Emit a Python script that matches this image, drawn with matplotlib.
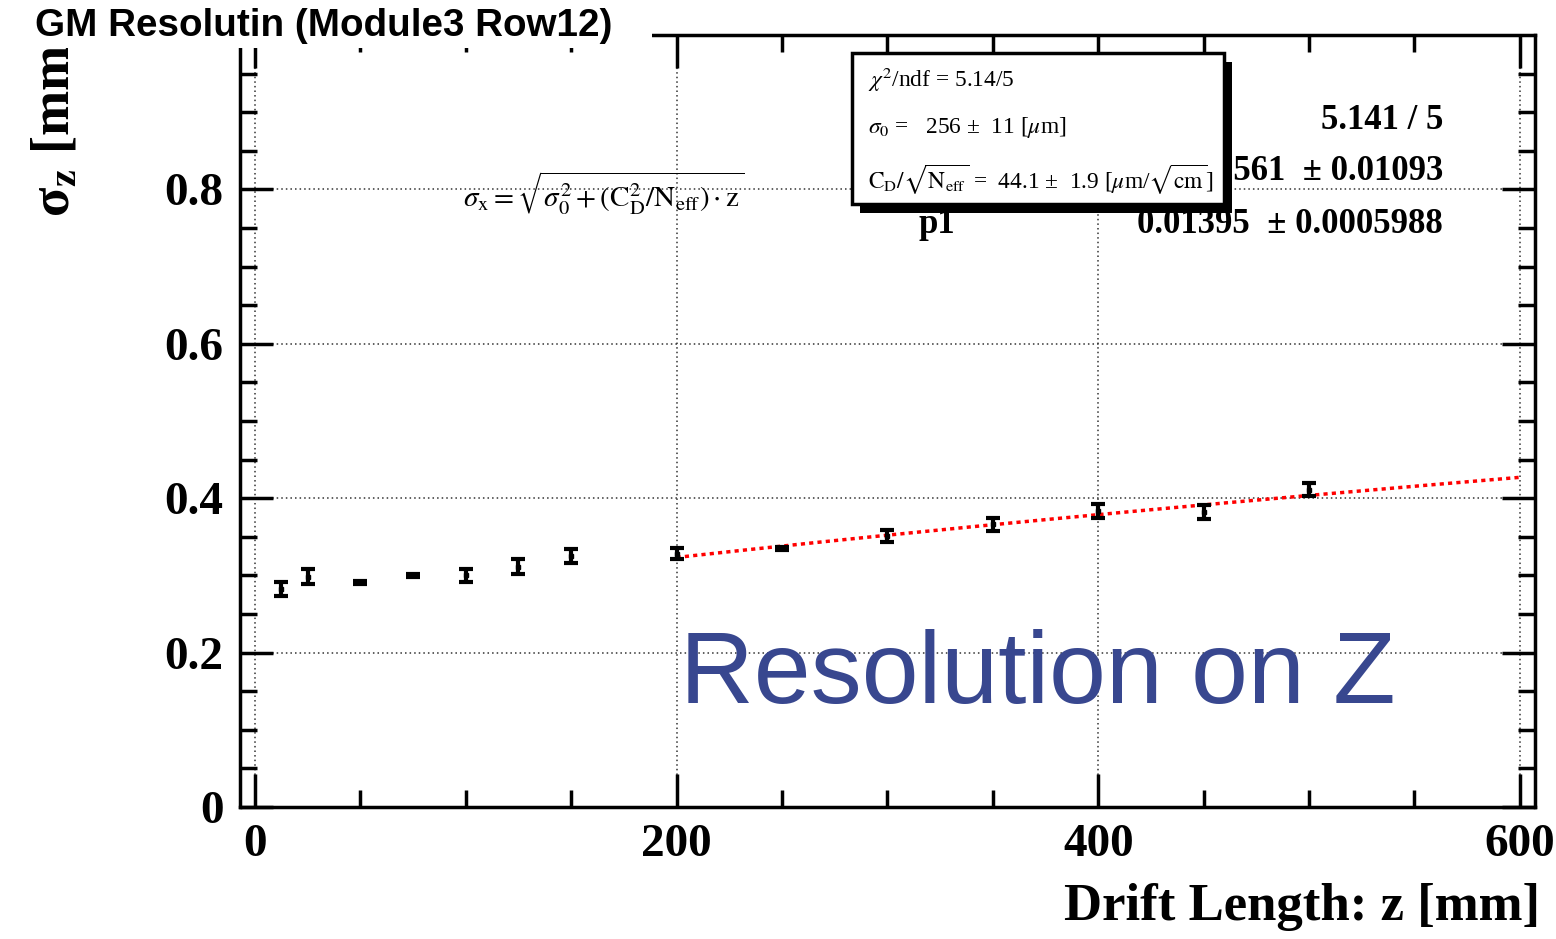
import matplotlib
matplotlib.use("Agg")
import matplotlib.pyplot as plt
from matplotlib.patches import Rectangle
import numpy as np

plt.rcParams['mathtext.fontset'] = 'stix'
plt.rcParams['font.family'] = 'Liberation Serif'

# measured points
z = [12.5, 25, 50, 75, 100, 125, 150, 200, 250, 300, 350, 400, 450, 500]
sigma = [0.282, 0.298, 0.291, 0.300, 0.300, 0.311, 0.325, 0.328, 0.335,
         0.351, 0.366, 0.383, 0.382, 0.411]
err = [0.009, 0.0097, 0.002, 0.002, 0.008, 0.0097, 0.009, 0.007, 0.002,
       0.008, 0.0087, 0.009, 0.0087, 0.0087]

# fit parameters (from the stat box)
p0 = 0.2561
p1 = 0.01395
fit_range = (200, 600)

xticks = [0, 200, 400, 600]
yticks = [0, 0.2, 0.4, 0.6, 0.8]

W, H = 1556, 939


def fx(px):
    return px / W


def fy(py):
    return 1 - py / H


fig = plt.figure(figsize=(W / 100, H / 100), dpi=100)
ax = fig.add_axes([240 / W, 132 / H, 1295 / W, 772 / H])

fz = np.linspace(fit_range[0], fit_range[1], 200)
ax.plot(fz, np.sqrt(p0**2 + p1**2 * fz), color='red', lw=2.5,
        linestyle=(0, (1.2, 1.2)), zorder=3)
ax.errorbar(z, sigma, yerr=err, fmt='s', color='black', ms=3.5,
            elinewidth=3, capsize=5, capthick=3, zorder=4)

ax.set_xlim(-7.1, 607.2)
ax.set_ylim(0, 1.0)
ax.set_xticks(xticks)
ax.set_xticklabels([str(t) for t in xticks], fontsize=34, fontweight='bold')
ax.set_yticks(yticks)
ax.set_yticklabels(['0' if t == 0 else f'{t:.1f}' for t in yticks],
                   fontsize=34, fontweight='bold')
ax.set_xticks(np.arange(0, 601, 50), minor=True)
ax.set_yticks(np.arange(0, 1.0, 0.05), minor=True)
ax.tick_params(which='major', direction='in', top=True, right=True,
               length=24, width=2.5, pad=12)
ax.tick_params(which='minor', direction='in', top=True, right=True,
               length=12, width=2.5)
for s in ax.spines.values():
    s.set_linewidth(2.5)
ax.grid(True, which='major', linestyle=(0, (1, 2)), color='#333333', lw=1.1)

# fit formula
fig.text(fx(604), fy(193),
         r'$\sigma_{\rm x} = \sqrt{\sigma_0^2 + (\mathrm{C}_\mathrm{D}^2/\mathrm{N}_\mathrm{eff})\cdot \mathrm{z}}$',
         fontsize=21, ha='center', va='center')

# ROOT stat box partly hidden
fig.text(fx(1443), fy(121), '5.141 / 5', fontsize=25, fontweight='bold',
         ha='right', va='center', zorder=3)
fig.text(fx(1443), fy(172), '0.2561  ± 0.01093', fontsize=25,
         fontweight='bold', ha='right', va='center', zorder=3)
fig.text(fx(937), fy(224), 'p1', fontsize=25, fontweight='bold',
         ha='center', va='center', zorder=3)
fig.text(fx(1443), fy(224), '0.01395  ± 0.0005988', fontsize=25,
         fontweight='bold', ha='right', va='center', zorder=3)

# overlay box
bx0, by0, bx1, by1 = 852, 53, 1224, 204
fig.patches.append(Rectangle((fx(bx0 + 8), fy(by1 + 9)), (bx1 - bx0) / W,
                             (by1 - by0) / H, transform=fig.transFigure,
                             facecolor='black', edgecolor='none', zorder=4))
fig.patches.append(Rectangle((fx(bx0), fy(by1)), (bx1 - bx0) / W,
                             (by1 - by0) / H, transform=fig.transFigure,
                             facecolor='white', edgecolor='black', lw=2.5,
                             zorder=5))
box_lines = [r'$\chi^2$/ndf = 5.14/5',
             r'$\sigma_0$ =   256 ±  11 [$\mu$m]',
             r'$\mathrm{C}_\mathrm{D}/\sqrt{\mathrm{N}_\mathrm{eff}}$ =  44.1 ±  1.9 [$\mu$m/$\sqrt{\mathrm{cm}}$]']
for yy, t in zip([80, 127, 180], box_lines):
    fig.text(fx(868), fy(yy), t, fontsize=16.8, ha='left', va='center',
             zorder=6)

# axis labels
fig.text(fx(1540), fy(907), 'Drift Length: z [mm]', fontsize=38,
         fontweight='bold', ha='right', va='center')
fig.text(fx(55), fy(217), r'σ$_\mathbf{z}$ [mm]', fontsize=39,
         fontweight='bold', rotation=90, ha='center', va='bottom', zorder=1)

# title over white area
fig.patches.append(Rectangle((0, fy(48)), fx(652), 48 / H,
                             transform=fig.transFigure, facecolor='white',
                             edgecolor='none', zorder=2))
fig.text(fx(35), fy(26), 'GM Resolutin (Module3 Row12)', fontsize=27.8,
         fontweight='bold', family='Liberation Sans', ha='left', va='center',
         zorder=3)

fig.text(fx(680), fy(703), 'Resolution on Z', fontsize=73.5,
         family='Liberation Sans', color='#38478f', ha='left',
         va='baseline', zorder=3)

fig.savefig('out.png', dpi=100)
